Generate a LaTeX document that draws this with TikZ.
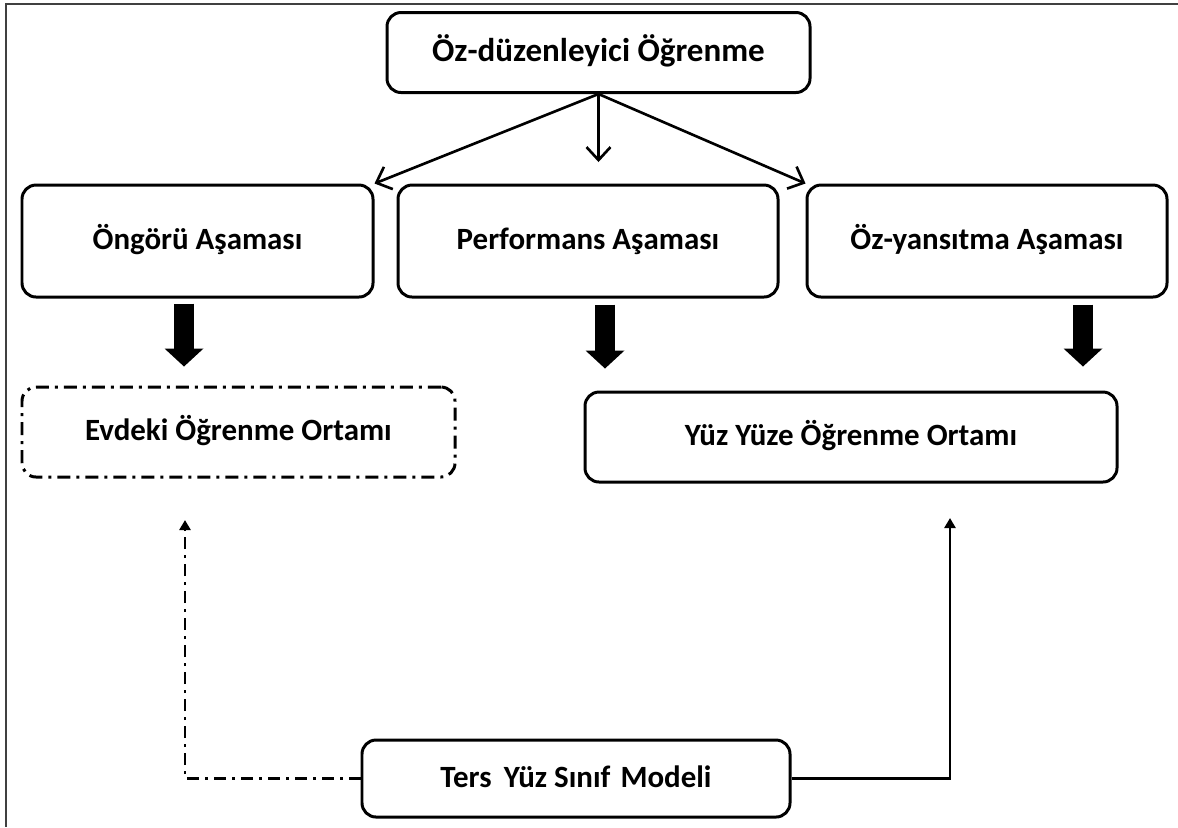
\documentclass[tikz,border=0pt]{standalone}
\usepackage{fontspec}
\setmainfont{Carlito}
\usetikzlibrary{arrows.meta}

\begin{document}
\begin{tikzpicture}[
    phase/.style={draw, line width=0.85pt, rounded corners=4pt, align=center,
        text height=0.72em, text depth=0.22em,
        font=\fontsize{8.8}{10}\selectfont\bfseries},
    envbox/.style={phase, dash pattern=on 1.3mm off 0.6mm on 0.3mm off 0.6mm},
    thinarrow/.style={line width=0.75pt, -{Straight Barb[length=1.3mm,width=2.4mm]}},
    fatarrow/.style={line width=2mm, -{Triangle[length=1.8mm,width=3.9mm,line width=0pt]}},
    link/.style={line width=0.8pt, -{Triangle[length=1mm,width=1.1mm]}},
    linkdash/.style={link, dash pattern=on 1.2mm off 0.6mm on 0.3mm off 0.6mm}
]
    \useasboundingbox (0,0) rectangle (11.78,-8.27);

    % Frame
    \draw[black!75, line width=0.8pt] (11.78,-0.04) -- (0.06,-0.04) -- (0.06,-8.27);

    % Top box
    \node[phase, minimum width=4.23cm, minimum height=0.8cm,
        font=\fontsize{9.4}{11}\selectfont\bfseries] (ozreg) at (5.985,-0.525) {Öz-düzenleyici Öğrenme};

    % Phases
    \node[phase, minimum width=3.51cm, minimum height=1.12cm] (ongoru) at (1.975,-2.41) {Öngörü Aşaması};
    \node[phase, minimum width=3.80cm, minimum height=1.12cm] (perf) at (5.88,-2.41) {Performans Aşaması};
    \node[phase, minimum width=3.60cm, minimum height=1.12cm] (ozyans) at (9.87,-2.41) {Öz-yansıtma Aşaması};

    % Learning environments
    \node[envbox, minimum width=4.33cm, minimum height=0.90cm] (evde) at (2.385,-4.32) {Evdeki Öğrenme Ortamı};
    \node[phase, minimum width=5.32cm, minimum height=0.90cm] (yuzyuze) at (8.51,-4.37) {Yüz Yüze Öğrenme Ortamı};

    % Model
    \node[phase, minimum width=4.28cm, minimum height=0.77cm] (ters) at (5.76,-7.785) {Ters\, Yüz Sınıf\kern0.1em\ Modeli};

    % Arrows from the top
    \coordinate (perftop) at (5.985,-1.62);
    \draw[thinarrow] (ozreg.south) -- (ongoru.north east);
    \draw[thinarrow] (ozreg.south) -- (perftop);
    \draw[thinarrow] (ozreg.south) -- (ozyans.north west);

    % Block arrows
    \draw[fatarrow] ([xshift=-1.35mm,yshift=-0.5mm]ongoru.south) -- +(0,-0.63);
    \draw[fatarrow] ([xshift=1.7mm,yshift=-0.6mm]perf.south) -- +(0,-0.64);
    \draw[fatarrow] ([xshift=9.6mm,yshift=-0.6mm]ozyans.south) -- +(0,-0.62);

    % Links from the model
    \coordinate (evdetip) at (1.85,-5.20);
    \coordinate (yuztip) at (9.50,-5.18);
    \draw[linkdash] (ters.west) -| (evdetip);
    \draw[link] (ters.east) -| (yuztip);
\end{tikzpicture}
\end{document}
